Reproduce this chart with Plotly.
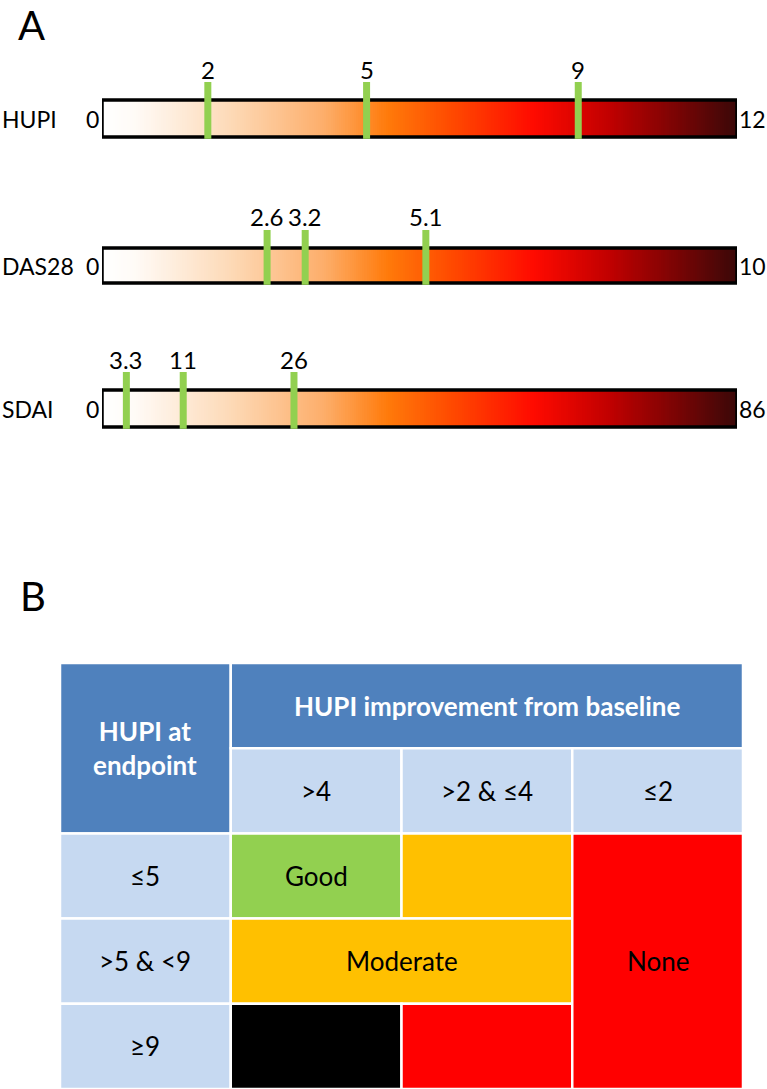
import plotly.graph_objects as go

# ---------------- data ----------------
scale_names = ["HUPI", "DAS28", "SDAI"]
scale_max = [12, 10, 86]
thresholds = [[2, 5, 9], [2.6, 3.2, 5.1], [3.3, 11, 26]]
threshold_labels = [["2", "5", "9"], ["2.6", "3.2", "5.1"], ["3.3", "11", "26"]]

col_title = "HUPI improvement from baseline"
row_title = "HUPI at<br>endpoint"
col_headers = [">4", ">2 & ≤4", "≤2"]
row_headers = ["≤5", ">5 & <9", "≥9"]
outcome_labels = ["Good", "", "Moderate", "", "", "None"]
outcome_colors = ["#92D050", "#FFC000", "#FFC000", "#000000", "#FF0000", "#FF0000"]
# grid spans (row0, row1, col0, col1) in table units
outcome_spans = [(2, 3, 1, 2), (2, 3, 2, 3), (3, 4, 1, 3), (4, 5, 1, 2), (4, 5, 2, 3), (2, 5, 3, 4)]

# ---------------- styling / layout ----------------
W, H = 767, 1089
FONT = "Lato"
bar_px = [(100, 137), (248, 283), (390, 427)]
bar_x = (102, 737)
gradient = [[0, "#FFFFFF"], [0.05, "#FFFBF7"], [0.2, "#FDDAB8"], [0.35, "#FDAE6A"],
            [0.45, "#FF7A0A"], [0.55, "#FF4A00"], [0.68, "#FF0A00"], [0.8, "#C00000"],
            [1, "#3A0808"]]
GREEN = "#92D050"
DARK_BLUE = "#4F81BD"
LIGHT_BLUE = "#C6D9F1"
NAME_SIZE = 23
END_SIZE = 23
THR_SIZE = 24

def py(p):
    return 1 - p / H

fig = go.Figure()
shapes = []
annotations = []
layout_axes = {}
N = 300

for i, name in enumerate(scale_names):
    n = i + 1
    xa = "x" if n == 1 else f"x{n}"
    ya = "y" if n == 1 else f"y{n}"
    xkey = "xaxis" if n == 1 else f"xaxis{n}"
    ykey = "yaxis" if n == 1 else f"yaxis{n}"
    top, bot = bar_px[i]
    h = bot - top
    mx = scale_max[i]
    edges = [mx * k / N for k in range(N + 1)]
    z = [[(k + 0.5) / N for k in range(N)]]
    fig.add_trace(go.Heatmap(x=edges, y=[0, h], z=z, colorscale=gradient, zmin=0, zmax=1,
                             showscale=False, hoverinfo="skip", xaxis=xa, yaxis=ya))
    layout_axes[xkey] = dict(domain=[bar_x[0] / W, bar_x[1] / W], range=[0, mx],
                             visible=False, fixedrange=True)
    layout_axes[ykey] = dict(domain=[py(bot + 4), py(top - 52)], range=[-4, h + 52],
                             visible=False, fixedrange=True)
    # border
    shapes.append(dict(type="rect", xref=xa, yref=ya, x0=0, x1=mx, y0=0, y1=h,
                       line=dict(color="black", width=3.5), fillcolor="rgba(0,0,0,0)",
                       layer="above"))
    # threshold markers
    for v, lab in zip(thresholds[i], threshold_labels[i]):
        shapes.append(dict(type="line", xref=xa, yref=ya, x0=v, x1=v, y0=-1.8, y1=h + 18,
                           line=dict(color=GREEN, width=7), layer="above"))
        annotations.append(dict(x=v, y=h + 31, xref=xa, yref=ya, text=lab, showarrow=False,
                                font=dict(family=FONT, size=THR_SIZE, color="black"),
                                xanchor="center", yanchor="middle"))
    # end labels
    annotations.append(dict(x=0, y=h / 2, xref=xa, yref=ya, text="0", showarrow=False,
                            xanchor="right", yanchor="middle", xshift=-1,
                            font=dict(family=FONT, size=END_SIZE, color="black")))
    annotations.append(dict(x=mx, y=h / 2, xref=xa, yref=ya, text=str(mx), showarrow=False,
                            xanchor="left", yanchor="middle", xshift=0,
                            font=dict(family=FONT, size=END_SIZE, color="black")))
    annotations.append(dict(x=0, y=h / 2, xref="paper", yref=ya, text=name, showarrow=False,
                            xanchor="left", yanchor="middle",
                            font=dict(family=FONT, size=NAME_SIZE, color="black")))

# ---------------- table (part B) ----------------
fig.add_trace(go.Scatter(x=[0, 4], y=[0, 5], mode="markers", marker=dict(opacity=0),
                         hoverinfo="skip", showlegend=False, xaxis="x4", yaxis="y4"))
layout_axes["xaxis4"] = dict(domain=[60 / W, 743 / W], range=[0, 4], visible=False, fixedrange=True)
layout_axes["yaxis4"] = dict(domain=[0, py(663)], range=[5, 0], visible=False, fixedrange=True)

def cell(r0, r1, c0, c1, color, text, tcolor="black", bold=False, size=26):
    shapes.append(dict(type="rect", xref="x4", yref="y4", x0=c0, x1=c1, y0=r0, y1=r1,
                       fillcolor=color, line=dict(color="white", width=2.5), layer="above"))
    if text:
        t = f"<b>{text}</b>" if bold else text
        annotations.append(dict(x=(c0 + c1) / 2, y=(r0 + r1) / 2, xref="x4", yref="y4",
                                text=t, showarrow=False, xanchor="center", yanchor="middle",
                                font=dict(family=FONT, size=size, color=tcolor)))

cell(0, 2, 0, 1, DARK_BLUE, row_title, "white", True)
cell(0, 1, 1, 4, DARK_BLUE, col_title, "white", True)
for j, lab in enumerate(col_headers):
    cell(1, 2, j + 1, j + 2, LIGHT_BLUE, lab)
for j, lab in enumerate(row_headers):
    cell(j + 2, j + 3, 0, 1, LIGHT_BLUE, lab)
for lab, col, (r0, r1, c0, c1) in zip(outcome_labels, outcome_colors, outcome_spans):
    cell(r0, r1, c0, c1, col, lab)

# panel letters
annotations.append(dict(x=16 / W, y=py(25), xref="paper", yref="paper", text="A",
                        showarrow=False, xanchor="left", yanchor="middle",
                        font=dict(family=FONT, size=40, color="black")))
annotations.append(dict(x=18 / W, y=py(596), xref="paper", yref="paper", text="B",
                        showarrow=False, xanchor="left", yanchor="middle",
                        font=dict(family=FONT, size=40, color="black")))

fig.update_layout(width=W, height=H, margin=dict(l=0, r=0, t=0, b=0),
                  paper_bgcolor="white", plot_bgcolor="white", showlegend=False,
                  shapes=shapes, annotations=annotations, **layout_axes)

fig.write_html("out.html", config={"displayModeBar": False},
               post_script="document.body.style.margin='0';document.body.style.overflow='hidden';")
